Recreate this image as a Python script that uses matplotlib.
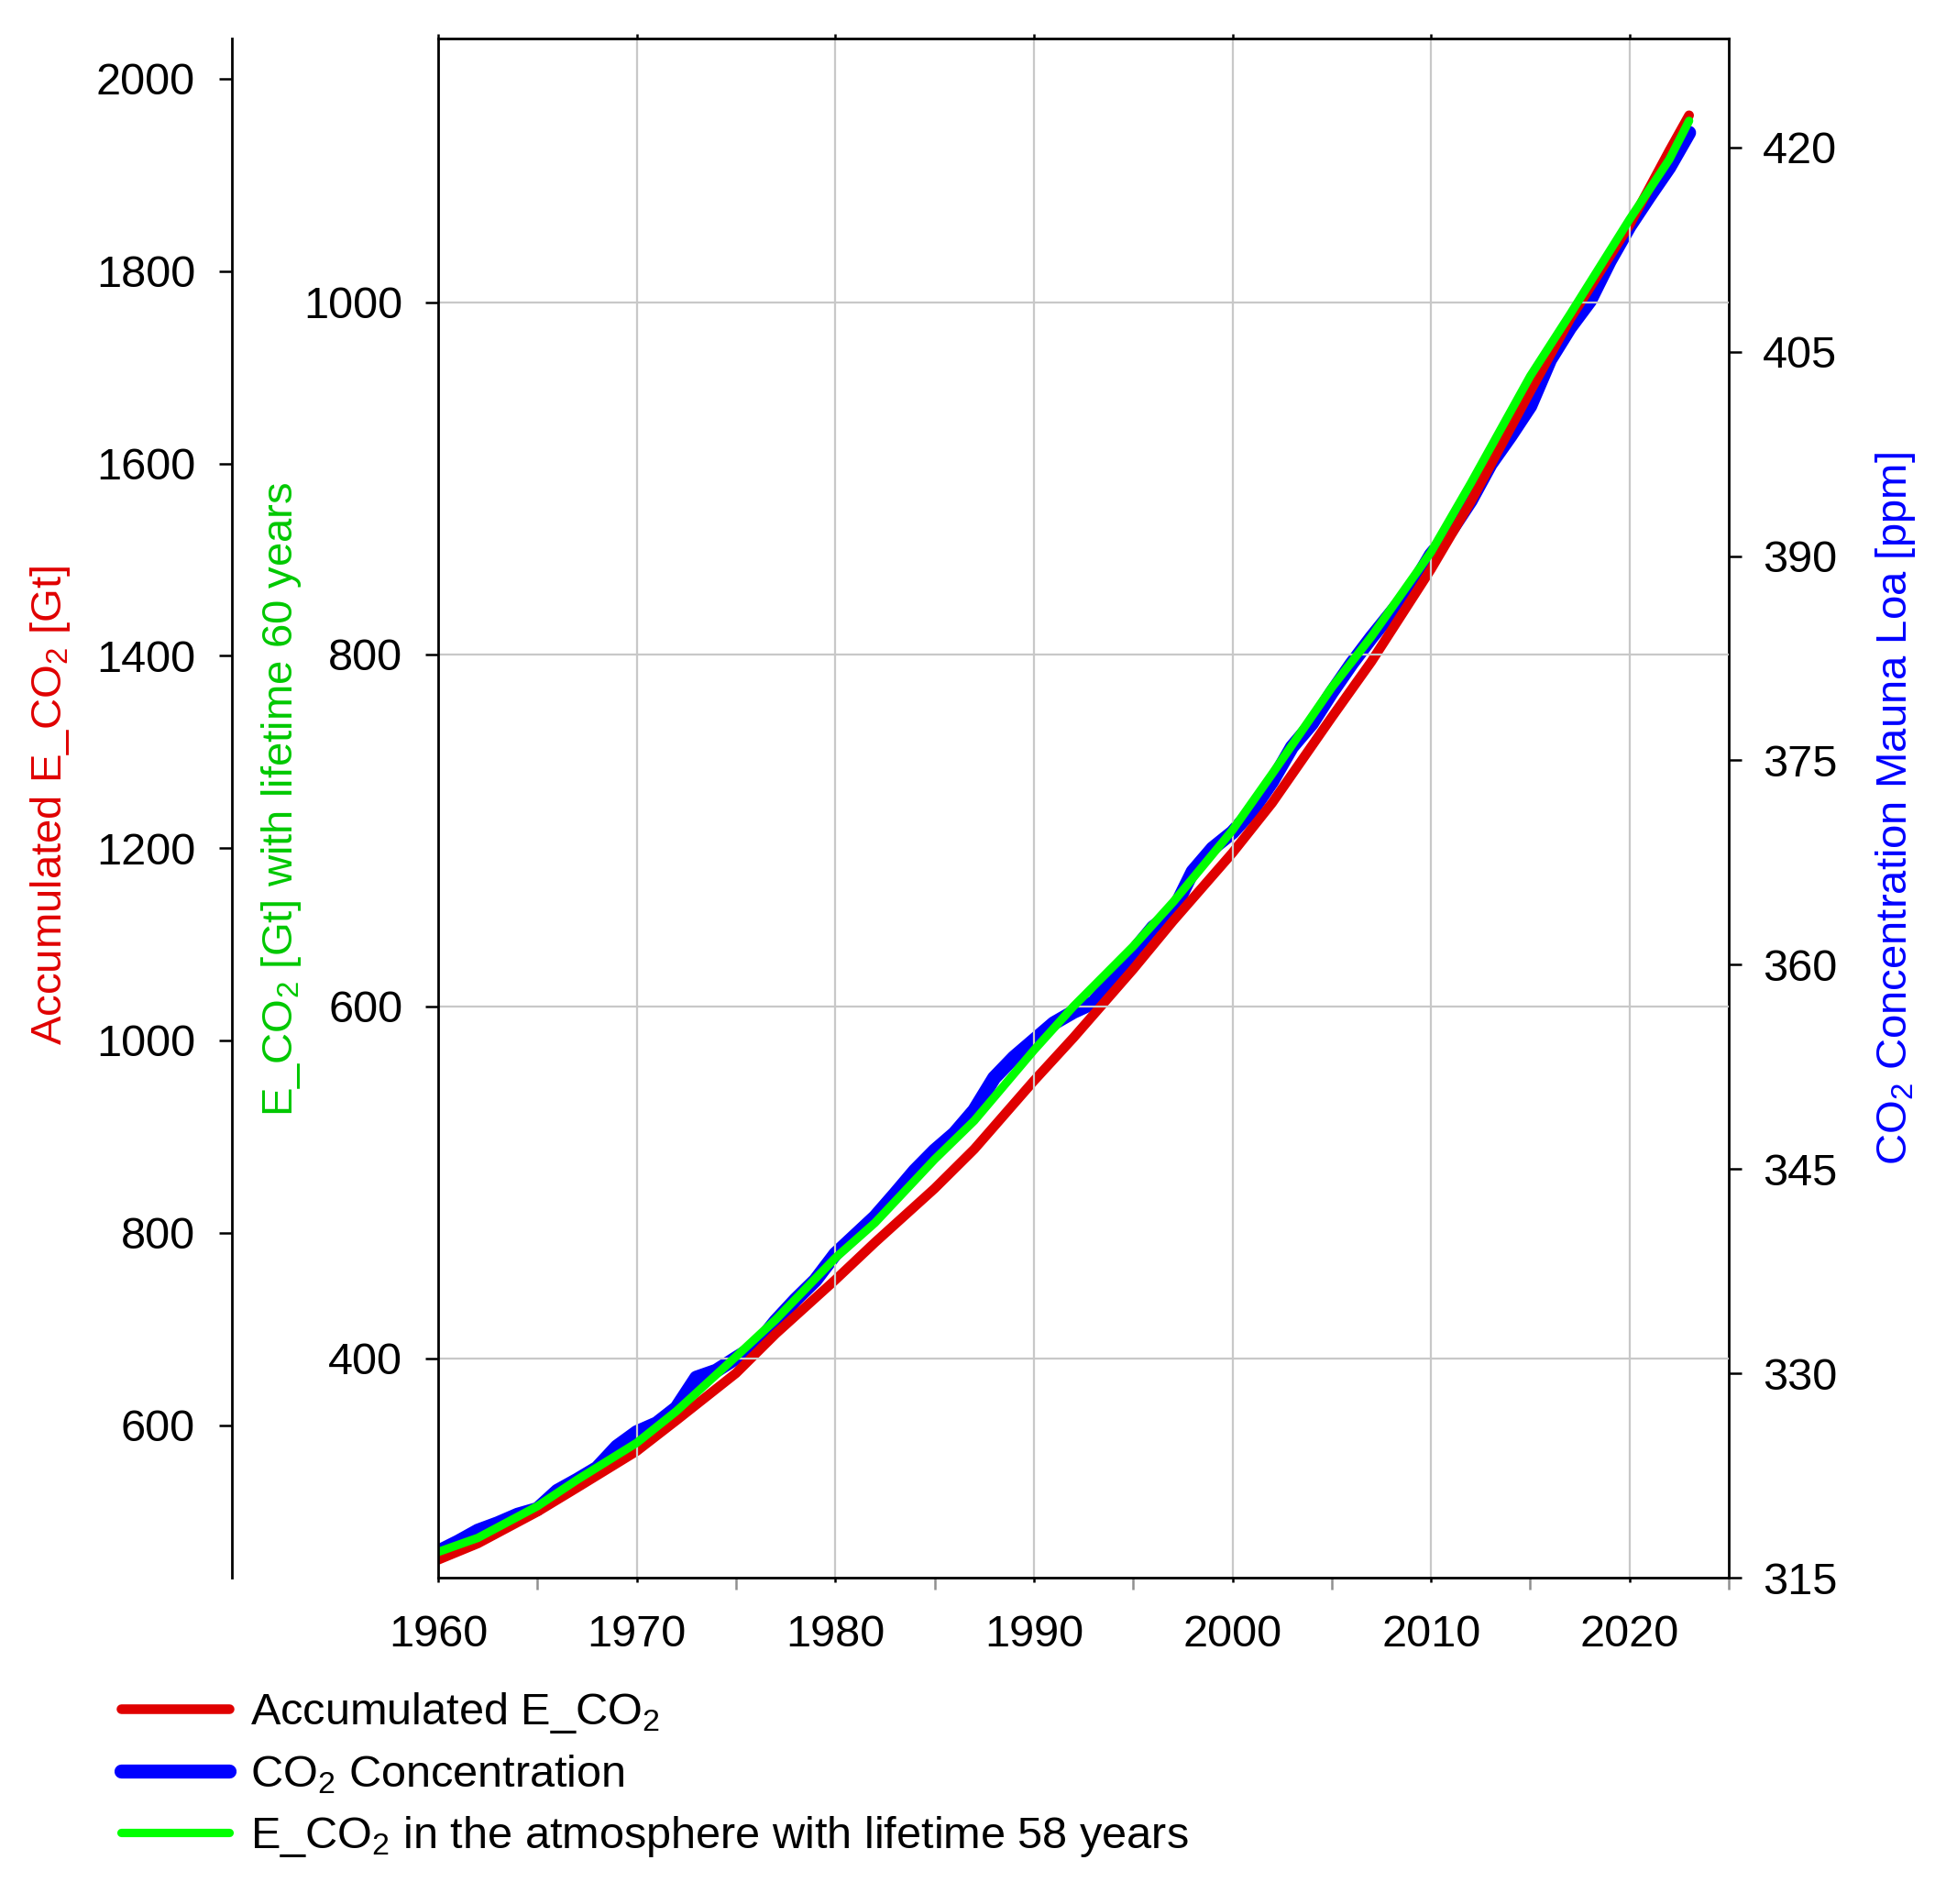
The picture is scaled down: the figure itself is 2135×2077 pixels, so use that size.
import matplotlib
matplotlib.use("Agg")
import matplotlib.pyplot as plt
from matplotlib.ticker import FixedLocator

plt.rcParams['font.family'] = ['Liberation Sans', 'DejaVu Sans']
plt.rcParams['mathtext.fontset'] = 'custom'
plt.rcParams['mathtext.rm'] = 'Liberation Sans'
plt.rcParams['mathtext.it'] = 'Liberation Sans:italic'
plt.rcParams['mathtext.default'] = 'regular'

# CO2 concentration at Mauna Loa, annual means [ppm]
co2_years = list(range(1960, 2024))
co2_ppm = [316.91, 317.64, 318.45, 318.99, 319.62, 320.04, 321.37, 322.18, 323.05, 324.62,
           325.68, 326.32, 327.46, 329.68, 330.19, 331.12, 332.03, 333.84, 335.41, 336.84,
           338.76, 340.12, 341.48, 343.15, 344.87, 346.35, 347.61, 349.31, 351.69, 353.20,
           354.45, 355.70, 356.54, 357.21, 358.96, 360.97, 362.74, 363.88, 366.84, 368.54,
           369.71, 371.32, 373.45, 375.98, 377.70, 379.98, 382.09, 384.02, 385.83, 387.64,
           390.10, 391.85, 394.06, 396.74, 398.81, 401.01, 404.41, 406.76, 408.72, 411.65,
           414.21, 416.41, 418.53, 421.08]

# accumulated emissions and the lifetime model [Gt]
emis_years = [1960, 1962, 1965, 1967, 1970, 1972, 1975, 1977, 1980, 1982, 1985, 1987, 1990,
              1992, 1995, 1997, 2000, 2002, 2005, 2007, 2010, 2012, 2015, 2017, 2020, 2022, 2023]
acc_emis = [460, 477, 510, 535, 573, 605, 654, 695, 751, 790, 846, 887, 958,
            1003, 1074, 1124, 1195, 1247, 1336, 1394, 1490, 1560, 1675, 1750, 1848, 1925, 1962]
atm_emis = [290, 298, 316, 331, 352, 370, 401, 422, 457, 477, 513, 535, 575,
            600, 634, 659, 700, 732, 781, 810, 858, 897, 958, 993, 1047, 1081, 1103]

red = '#e00000'
blue = '#0000ff'
green = '#00ff00'

fig = plt.figure(figsize=(10.675, 10.385), dpi=200)
fig.patch.set_facecolor('white')
ax = fig.add_axes([0.2239, 0.1714, 0.6595, 0.8084])
ax_red = ax.twinx()
ax_blue = ax.twinx()

ax_blue.set_zorder(1)
ax_red.set_zorder(2)
ax.set_zorder(3)
ax.patch.set_visible(False)

l_blue, = ax_blue.plot(co2_years, co2_ppm, color=blue, lw=5.5,
                       solid_capstyle='round', solid_joinstyle='round')
l_red, = ax_red.plot(emis_years, acc_emis, color=red, lw=3.8,
                     solid_capstyle='round', solid_joinstyle='round')
l_green, = ax.plot(emis_years, atm_emis, color=green, lw=3.3,
                   solid_capstyle='round', solid_joinstyle='round')

# x axis
ax.set_xlim(1960, 2025)
ax.set_xticks(range(1960, 2021, 10))
ax.xaxis.set_minor_locator(FixedLocator(range(1965, 2030, 10)))
ax.tick_params(axis='x', which='major', direction='out', length=1.8, width=0.9,
               pad=12.5, labelsize=17.5, top=True)
ax.tick_params(axis='x', which='minor', direction='out', length=4.7, width=0.9,
               color='#909090', top=False)

# green axis (main)
ax.set_ylim(275.4, 1149.8)
ax.set_yticks([400, 600, 800, 1000])
ax.tick_params(axis='y', direction='out', length=5, width=0.9, pad=9, labelsize=17.5)
ax.grid(True, which='major', color='#c8c8c8', lw=0.8)
ax.spines['right'].set_visible(False)
for s in ['left', 'top', 'bottom']:
    ax.spines[s].set_linewidth(1.0)

# red axis (outer left)
ax_red.set_ylim(441.4, 2041.9)
ax_red.set_yticks(range(600, 2001, 200))
ax_red.yaxis.tick_left()
ax_red.spines['left'].set_position(('axes', -0.1598))
ax_red.spines['left'].set_visible(True)
ax_red.spines['left'].set_linewidth(1.0)
for s in ['right', 'top', 'bottom']:
    ax_red.spines[s].set_visible(False)
ax_red.tick_params(axis='y', direction='out', length=5, width=0.9, pad=9.4, labelsize=17.5)

# blue axis (right)
ax_blue.set_ylim(315, 428.0)
ax_blue.set_yticks(range(315, 421, 15))
for s in ['left', 'top', 'bottom']:
    ax_blue.spines[s].set_visible(False)
ax_blue.spines['right'].set_linewidth(1.0)
ax_blue.tick_params(axis='y', direction='out', length=5, width=0.9, pad=8.2, labelsize=17.5)

# axis titles
fig.text(0.0258, 0.5768, 'Accumulated E_CO$_2$ [Gt]', rotation=90, ha='center', va='center',
         color=red, fontsize=17)
fig.text(0.1438, 0.5802, 'E_CO$_2$ [Gt] with lifetime 60 years', rotation=90, ha='center',
         va='center', color='#00c800', fontsize=17)
fig.text(0.9686, 0.5753, 'CO$_2$ Concentration Mauna Loa [ppm]', rotation=90, ha='center',
         va='center', color=blue, fontsize=17)

fig.legend([l_red, l_blue, l_green],
           ['Accumulated E_CO$_2$', 'CO$_2$ Concentration',
            'E_CO$_2$ in the atmosphere with lifetime 58 years'],
           loc='upper left', bbox_to_anchor=(0.0618, 0.1121), frameon=False,
           fontsize=17.5, handlelength=2.43, handletextpad=0.47, labelspacing=0.40,
           borderpad=0, borderaxespad=0)

fig.savefig('out.png', dpi=200, facecolor='white')
